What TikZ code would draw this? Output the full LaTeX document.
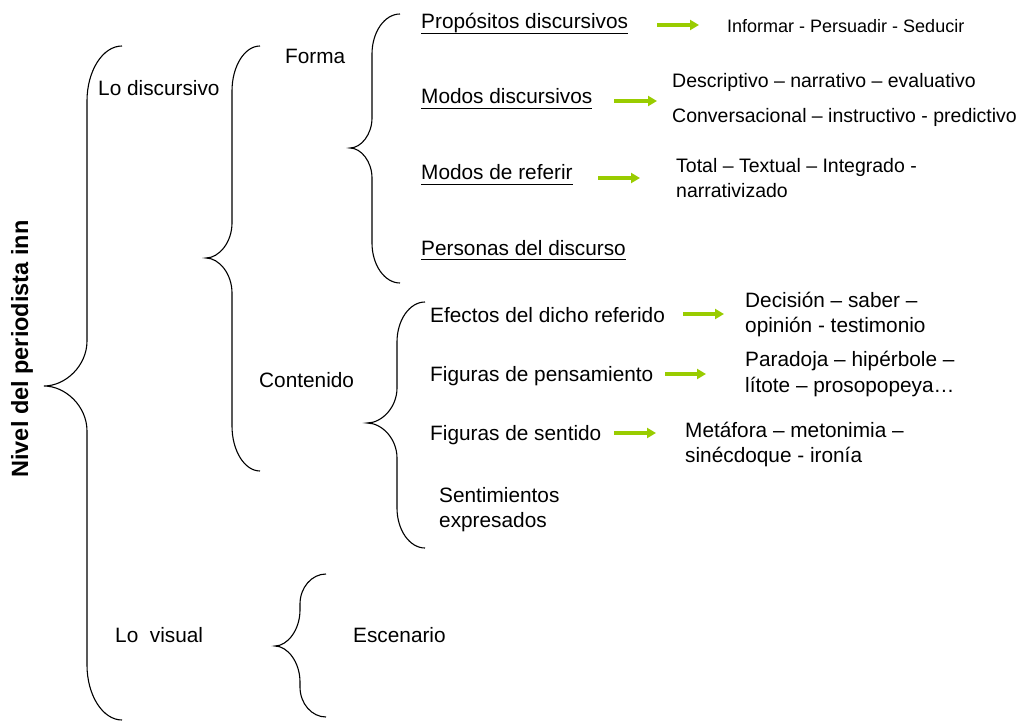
\documentclass[tikz,border=0pt]{standalone}
\usepackage{fontspec}
\setmainfont{Liberation Sans}
\usetikzlibrary{arrows.meta}
\definecolor{agreen}{RGB}{153,204,0}
\tikzset{
 lbl/.style={font=\fontsize{20.8}{25}\selectfont, inner sep=0pt, anchor=base west},
 sml/.style={font=\fontsize{19.5}{24.5}\selectfont, inner sep=0pt, anchor=base west},
 tny/.style={font=\fontsize{18}{22}\selectfont, inner sep=0pt, anchor=base west},
 two/.style={font=\fontsize{20.8}{25.5}\selectfont, inner sep=0pt, anchor=west, align=left},
 twosml/.style={font=\fontsize{19.5}{24.5}\selectfont, inner sep=0pt, anchor=west, align=left},
 brc/.style={line width=1.1pt, black},
 garrow/.style={draw=agreen, line width=3.5pt, -{Triangle[length=9pt,width=10pt]}},
 uline/.style={line width=1pt, black},
}
% xv xtip xend ytop ymid ybot rend rtip
\newcommand\mybrace[8]{%
 \draw[brc] (#3,#4) .. controls ({#1+0.45*(#3-#1)},#4) and (#1,{#4+0.45*#7}) .. (#1,{#4+#7})
  -- (#1,{#5-#8}) .. controls (#1,{#5-0.45*#8}) and ({#2+0.5*(#1-#2)},#5) .. (#2,#5)
  .. controls ({#2+0.5*(#1-#2)},#5) and (#1,{#5+0.45*#8}) .. (#1,{#5+#8})
  -- (#1,{#6-#7}) .. controls (#1,{#6-0.45*#7}) and ({#1+0.45*(#3-#1)},#6) .. (#3,#6);}
\begin{document}
\begin{tikzpicture}[x=1pt,y=-1pt]
\useasboundingbox (0,0) rectangle (1025,722);
% braces
\mybrace{87}{44}{122}{46}{386}{720}{55}{45}
\mybrace{232}{206}{260}{46}{258}{471}{45}{35}
\mybrace{372}{350}{400}{14}{148}{283}{40}{30}
\mybrace{397}{367}{425}{302}{423}{548}{40}{35}
\mybrace{300}{275}{326}{574}{646}{717}{30}{36}
% title
\node[font=\bfseries\fontsize{23.5}{28}\selectfont, rotate=90, inner sep=0pt] (title) at (22,349) {Nivel del periodista inn};
% level 1
\node[lbl] (disc) at (98,96) {Lo discursivo};
\node[lbl] (vis) at (115,642) {Lo\ \ visual};
% level 2
\node[lbl] (forma) at (285,64) {Forma};
\node[lbl] (cont) at (259,387) {Contenido};
\node[lbl] (esc) at (353,642) {Escenario};
% forma items
\node[lbl] (p1) at (421,29) {Propósitos discursivos};
\node[lbl] (p2) at (421,104) {Modos discursivos};
\node[lbl] (p3) at (421,180) {Modos de referir};
\node[lbl] (p4) at (421,255) {Personas del discurso};
\foreach \n in {p1,p2,p3,p4}
  \draw[uline] ([yshift=-4.5pt]\n.base west) -- ([yshift=-4.5pt]\n.base east);
\node[tny] (d1) at (727,33) {Informar - Persuadir - Seducir};
\node[sml] (d2a) at (672,88) {Descriptivo – narrativo – evaluativo};
\node[sml] (d2b) at (672,123) {Conversacional – instructivo - predictivo};
\node[twosml] (d3) at (676,178) {Total – Textual – Integrado -\\narrativizado};
% contenido items
\node[lbl] (c1) at (430,322) {Efectos del dicho referido};
\node[lbl] (c2) at (430,381) {Figuras de pensamiento};
\node[lbl] (c3) at (430,440) {Figuras de sentido};
\node[two] (c4) at (439,509.5) {Sentimientos\\expresados};
\node[two] (e1) at (745,314.5) {Decisión – saber –\\opinión - testimonio};
\node[two] (e2) at (745,374) {Paradoja – hipérbole –\\lítote – prosopopeya…};
\node[two] (e3) at (685,444.5) {Metáfora – metonimia –\\sinécdoque - ironía};
% arrows
\coordinate (a1s) at (657,25); \coordinate (a1e) at (699,25);
\coordinate (a2s) at (614,101); \coordinate (a2e) at (657,101);
\coordinate (a3s) at (598,178); \coordinate (a3e) at (640,178);
\coordinate (a4s) at (683,314); \coordinate (a4e) at (724,314);
\coordinate (a5s) at (665,374); \coordinate (a5e) at (706,374);
\coordinate (a6s) at (614,433); \coordinate (a6e) at (656,433);
\foreach \i in {1,...,6} \draw[garrow] (a\i s) -- (a\i e);
\end{tikzpicture}
\end{document}
